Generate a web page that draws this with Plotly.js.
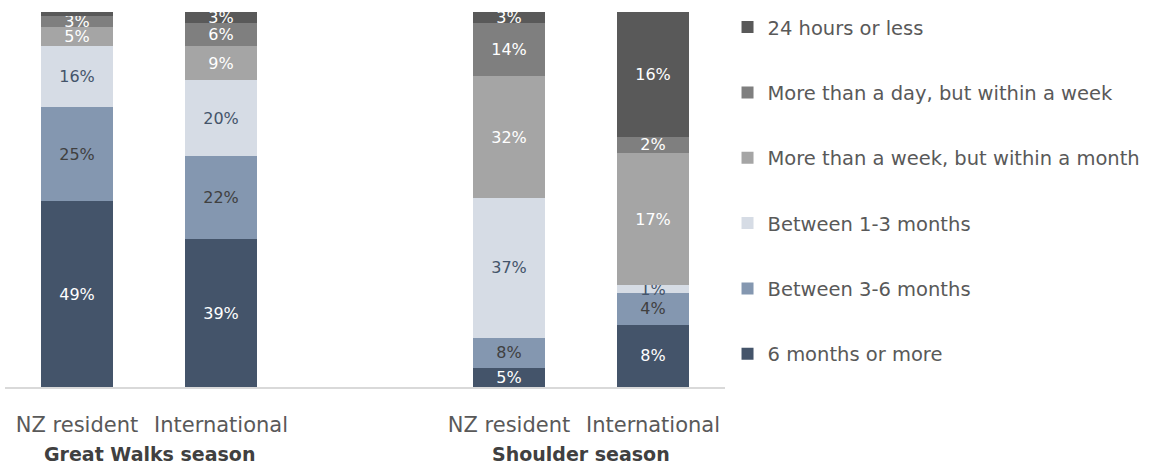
<!DOCTYPE html>
<html><head><meta charset="utf-8">
<script src="https://cdn.plot.ly/plotly-3.0.1.min.js"></script>
<style>body{margin:0;background:#fff}#chart{width:1158px;height:466px}</style>
</head><body><div id="chart"></div>
<script>
const seasons = ['Great Walks season', 'Shoulder season'];
const visitorTypes = ['NZ resident', 'International'];
// order of bars: GW NZ, GW Intl, Shoulder NZ, Shoulder Intl
const sixMonthsOrMore = [49, 39, 5, 8];
const between3to6 = [25, 22, 8, 4];
const between1to3 = [16, 20, 37, 1];
const weekToMonth = [5, 9, 32, 17];
const dayToWeek = [3, 6, 14, 2];
const hours24OrLess = [1, 3, 3, 16];
const hours24Labels = ['', '3%', '3%', '16%'];

const seriesNames = ['6 months or more', 'Between 3-6 months', 'Between 1-3 months',
  'More than a week, but within a month', 'More than a day, but within a week', '24 hours or less'];
const seriesValues = [sixMonthsOrMore, between3to6, between1to3, weekToMonth, dayToWeek, hours24OrLess];
const colors = ['#44546A', '#8497B0', '#D6DCE5', '#A5A5A5', '#7F7F7F', '#595959'];
const textColors = ['#FFFFFF', '#404040', '#44546A', '#FFFFFF', '#FFFFFF', '#FFFFFF'];

const keys = [];
seasons.forEach(s => visitorTypes.forEach(v => keys.push(s + '|' + v)));
const catOrder = [keys[0], keys[1], 'spacer', keys[2], keys[3]];

const FONT = 'DejaVu Sans';
const traces = seriesValues.map((vals, i) => ({
  type: 'bar', name: seriesNames[i], x: keys, y: vals,
  text: i === 5 ? hours24Labels : vals.map(v => v + '%'),
  textposition: 'inside', insidetextanchor: 'middle', constraintext: 'none',
  textfont: {family: FONT, size: 16, color: textColors[i]},
  marker: {color: colors[i], line: {width: 0}},
  legendgroup: 'g' + i, legendrank: 1000 - i * 10, hoverinfo: 'skip'
}));

const layout = {
  width: 1158, height: 466,
  margin: {l: 5, r: 433, t: 12, b: 79},
  barmode: 'stack', barnorm: 'percent', bargap: 0.5,
  paper_bgcolor: '#fff', plot_bgcolor: '#fff',
  font: {family: FONT, color: '#595959'},
  xaxis: {type: 'category', categoryorder: 'array', categoryarray: catOrder,
    range: [-0.5, 4.5], tickvals: keys, ticktext: [visitorTypes[0], visitorTypes[1], visitorTypes[0], visitorTypes[1]],
    tickfont: {family: FONT, size: 21, color: '#595959'}, ticks: '', ticklabelstandoff: 18,
    showline: true, linecolor: '#D9D9D9', linewidth: 2, showgrid: false, zeroline: false, fixedrange: true},
  yaxis: {range: [0, 100], visible: false, showgrid: false, zeroline: false, fixedrange: true},
  showlegend: true,
  legend: {x: 1.0035, xanchor: 'left', y: 1.011, yanchor: 'top', traceorder: 'grouped',
    tracegroupgap: 37, maxheight: 460, font: {family: FONT, size: 19.5, color: '#595959'}, itemclick: false},
  annotations: seasons.map((s, i) => ({
    text: s, xref: 'x', yref: 'paper', x: i * 3 + 0.5, y: -0.179, yanchor: 'middle', xanchor: 'center',
    showarrow: false, font: {family: FONT, size: 19, color: '#404040', weight: 600}
  }))
};

Plotly.newPlot('chart', traces, layout, {displayModeBar: false, staticPlot: true});
</script></body></html>
